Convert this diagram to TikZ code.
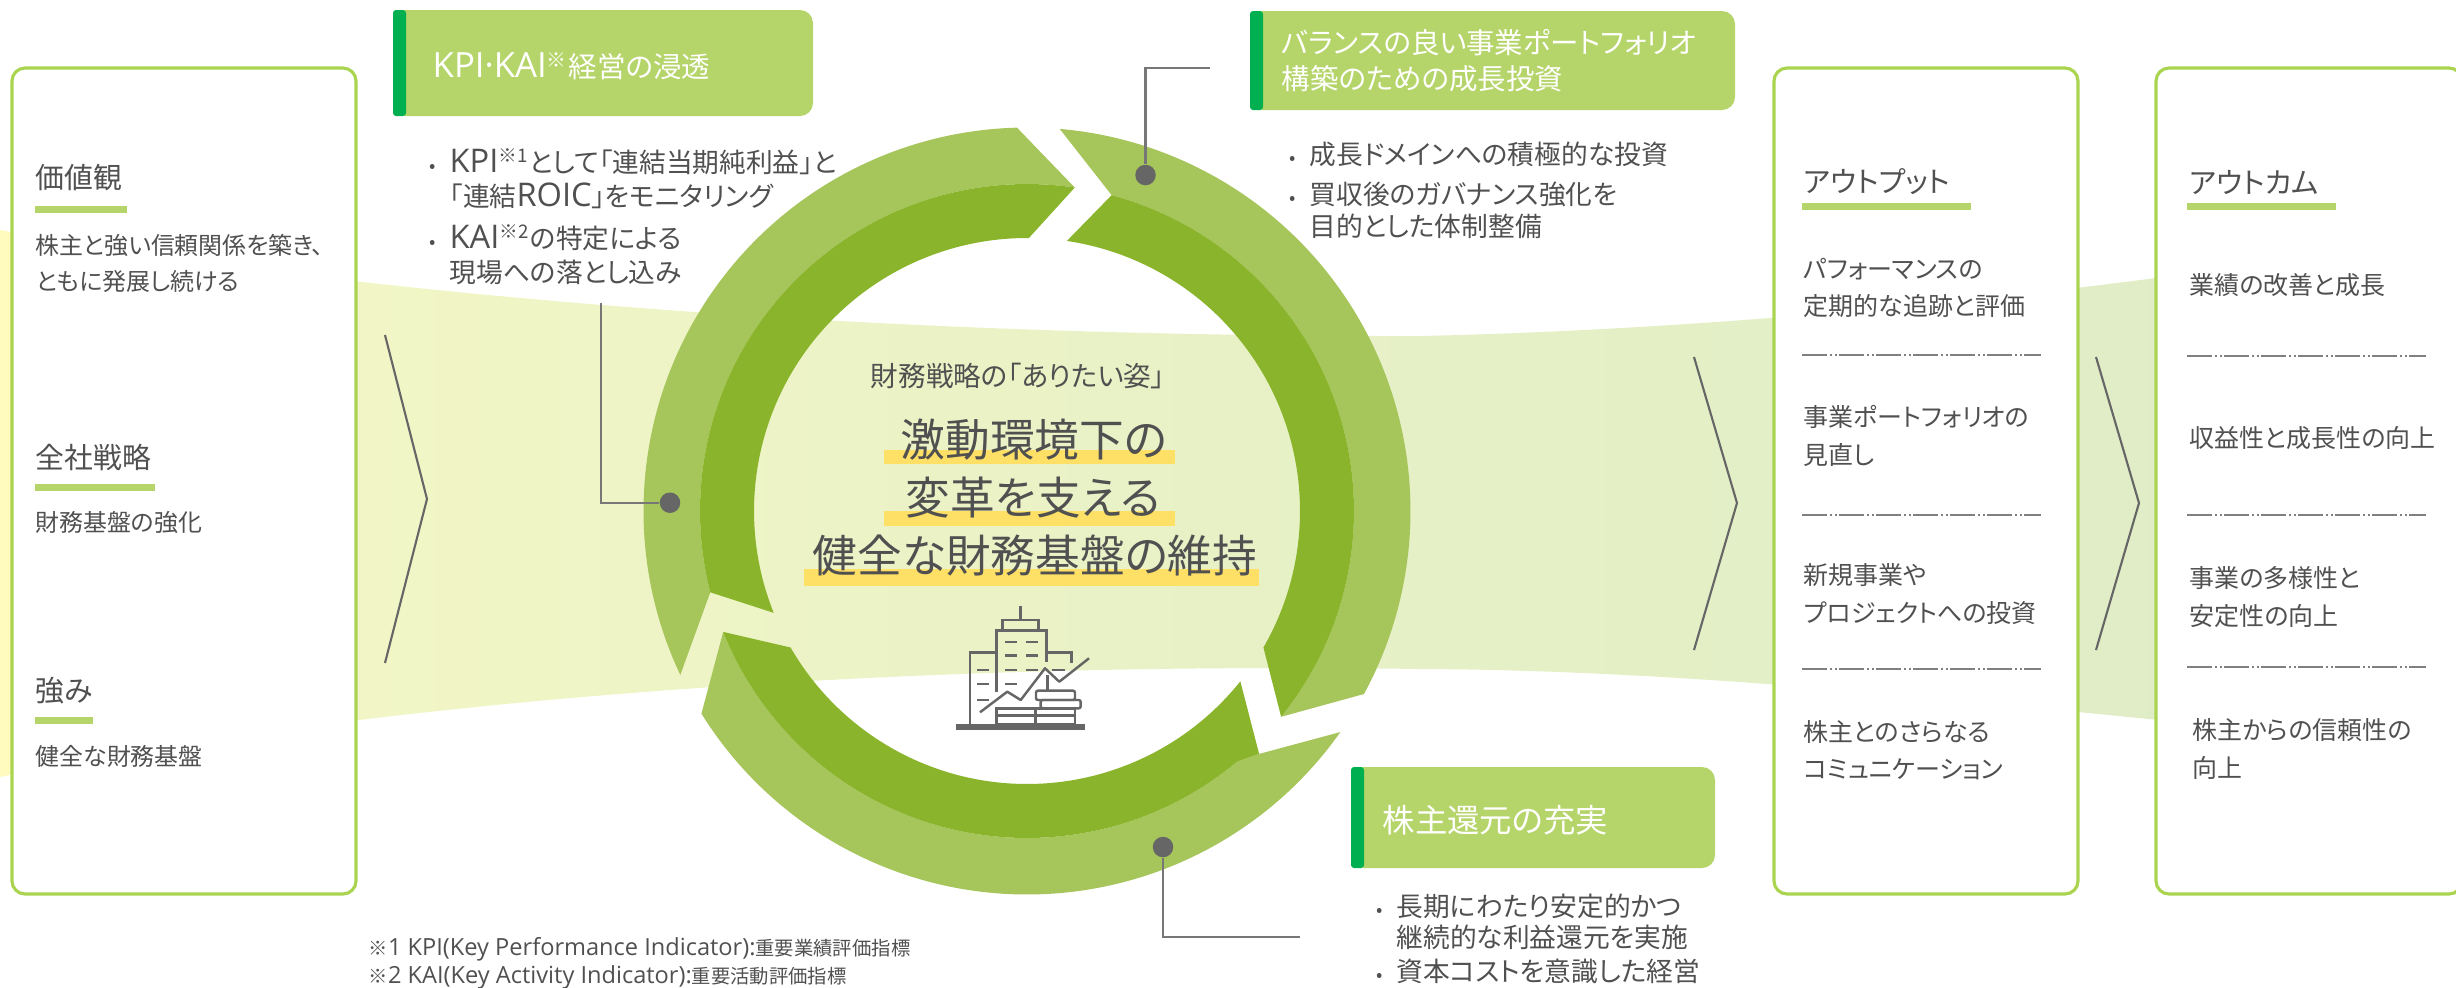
\documentclass[tikz,border=0pt]{standalone}
\usepackage{fontspec}
\setmainfont[RawFeature=+palt]{Noto Sans CJK JP}
\newfontfamily\latinfont[Scale=1.22]{Open Sans}
\usepackage{tikz}
\usetikzlibrary{positioning}
\definecolor{textgray}{HTML}{505050}
\definecolor{linegray}{HTML}{666666}
\definecolor{leadgray}{HTML}{777777}
\definecolor{ringlight}{HTML}{A6C55A}
\definecolor{ringdark}{HTML}{8AB42B}
\definecolor{headfill}{HTML}{B5D56A}
\definecolor{headbar}{HTML}{00B050}
\definecolor{boxline}{HTML}{AAD450}
\definecolor{bandleft}{HTML}{FFFBBE}
\definecolor{bandnear}{HTML}{F2F6C6}
\definecolor{bandmid}{HTML}{EAF2C6}
\definecolor{bandright}{HTML}{DFEDC6}
\definecolor{markyellow}{HTML}{FFE066}
\pgfdeclarehorizontalshading{bandshade}{100bp}{color(0bp)=(bandleft); color(25bp)=(bandleft); color(33bp)=(bandnear); color(48bp)=(bandmid); color(75bp)=(bandright); color(100bp)=(bandright)}
\newcommand{\listmark}{\makebox[0.2cm][l]{\scalebox{0.7}{•}}}
\newcommand{\listgap}{\hspace*{0.2cm}}
\newcommand{\lat}[1]{{\latinfont #1}}
\tikzset{
    colbox/.style={draw=boxline, line width=0.9pt, fill=white, rounded corners=0.13cm}, % the tall boxes
    tabbar/.style={fill=headbar, rounded corners=0.03cm},
    underbar/.style={fill=headfill}, % bar under a column title
    chevron/.style={draw=linegray, line width=0.6pt},
    rowrule/.style={draw=gray, line width=0.35pt, dash pattern=on 0.25cm off 0.03cm on 0.02cm off 0.03cm on 0.02cm off 0.02cm},
    dotmark/.style={circle, fill=linegray, minimum size=0.205cm, inner sep=0},
    leader/.style={draw=leadgray, line width=0.6pt},
    icon/.style={draw=linegray, line width=0.7pt},
    coltitle/.style={anchor=west, inner sep=0, text=textgray, font=\fontsize{8.2pt}{10pt}\selectfont},
    sidetext/.style={anchor=west, inner sep=0, align=left, text=textgray, font=\fontsize{6.8pt}{10.2pt}\selectfont},
    rowtext/.style={anchor=west, inner sep=0, align=left, text=textgray, font=\fontsize{7.1pt}{10.6pt}\selectfont},
    headtext/.style={anchor=west, inner sep=0, align=left, text=white, font=\fontsize{8.1pt}{10.2pt}\selectfont},
    listtext/.style={anchor=west, inner sep=0, align=left, text=textgray, font=\fontsize{7.6pt}{9.6pt}\selectfont},
    bigtext/.style={inner sep=0, text=textgray, font=\fontsize{12.7pt}{14pt}\selectfont},
    notetext/.style={anchor=west, inner sep=0, text=textgray, font=\fontsize{5.5pt}{7pt}\selectfont},
}
\begin{document}
\begin{tikzpicture}[x=0.01cm, y=-0.01cm]
    \useasboundingbox (0,0) rectangle (2456,987);

    % pale band behind everything
    \shade[shading=bandshade]
        (0,230) .. controls (300,285) and (800,337) .. (1420,336)
        .. controls (1700,330) and (2000,300) .. (2200,272) -- (2200,724)
        .. controls (2000,705) and (1700,670) .. (1420,669)
        .. controls (800,660) and (300,715) .. (0,777) -- cycle;

    % ring of three arrows
    \coordinate (ring) at (1027,511);
    \fill[ringlight] ([shift={(154.7:383.5)}]ring) arc[start angle=154.7, end angle=268.5, radius=383.5]
        -- ([shift={(278.4:327)}]ring) arc[start angle=278.4, end angle=165.6, radius=327] -- cycle;
    \fill[ringdark] ([shift={(278.4:327)}]ring) -- ([shift={(270.4:273)}]ring)
        arc[start angle=270.4, end angle=158.1, radius=273]
        -- ([shift={(165.6:327)}]ring) arc[start angle=165.6, end angle=278.4, radius=327] -- cycle;
    \fill[ringlight] ([shift={(-85.1:383.5)}]ring) arc[start angle=-85.1, end angle=28.5, radius=383.5]
        -- ([shift={(39:327)}]ring) arc[start angle=39, end angle=-75, radius=327] -- cycle;
    \fill[ringdark] ([shift={(-75:327)}]ring) arc[start angle=-75, end angle=39, radius=327]
        -- ([shift={(30:273)}]ring) arc[start angle=30, end angle=-81.6, radius=273] -- cycle;
    \fill[ringlight] ([shift={(35.2:383.5)}]ring) arc[start angle=35.2, end angle=148.1, radius=383.5]
        -- ([shift={(158.3:327)}]ring) arc[start angle=158.3, end angle=50, radius=327] -- ([shift={(46.3:336)}]ring) -- cycle;
    \fill[ringdark] ([shift={(158.3:327)}]ring) arc[start angle=158.3, end angle=50, radius=327] -- ([shift={(46.3:336)}]ring)
        -- ([shift={(38.6:273)}]ring) arc[start angle=38.6, end angle=150, radius=273] -- cycle;

    % tall boxes
    \draw[colbox] (12,68) rectangle (356,894);
    \draw[colbox] (1774,68) rectangle (2078,894);
    \draw[colbox] (2156,68) rectangle (2462,894);

    % chevrons
    \draw[chevron] (385,335) -- (427,499) -- (385,663);
    \draw[chevron] (1694,357) -- (1737,503) -- (1694,650);
    \draw[chevron] (2096,357) -- (2139,503) -- (2096,650);

    % left box
    \node[coltitle] (valuetitle) at (35,178) {価値観};
    \fill[underbar] (35,205.5) rectangle (127,212.5);
    \node[sidetext] (valuetext) at (35,263) {株主と強い信頼関係を築き、\\ともに発展し続ける};
    \node[coltitle] (plantitle) at (35,457) {全社戦略};
    \fill[underbar] (35,483.5) rectangle (155,490.5);
    \node[sidetext] (plantext) at (35,522) {財務基盤の強化};
    \node[coltitle] (powertitle) at (35,691) {強み};
    \fill[underbar] (35,717) rectangle (93,724);
    \node[sidetext] (powertext) at (35,756) {健全な財務基盤};

    % output box
    \node[coltitle] (outtitle) at (1803,182) {アウトプット};
    \fill[underbar] (1802,202.5) rectangle (1971,209.5);
    \node[rowtext] (outa) at (1803,288) {パフォーマンスの\\定期的な追跡と評価};
    \node[rowtext] (outb) at (1803,436) {事業ポートフォリオの\\見直し};
    \node[rowtext] (outc) at (1803,594) {新規事業や\\プロジェクトへの投資};
    \node[rowtext] (outd) at (1803,750) {株主とのさらなる\\コミュニケーション};
    \foreach \ypos in {355,515,669} {
        \draw[rowrule] (1802,\ypos) -- (2041,\ypos);
    }

    % outcome box
    \node[coltitle] (comtitle) at (2189,182) {アウトカム};
    \fill[underbar] (2187,202.5) rectangle (2336,209.5);
    \node[rowtext] (coma) at (2189,285) {業績の改善と成長};
    \node[rowtext] (comb) at (2189,438) {収益性と成長性の向上};
    \node[rowtext] (comc) at (2189,597) {事業の多様性と\\安定性の向上};
    \node[rowtext] (comd) at (2192,749) {株主からの信頼性の\\向上};
    \foreach \ypos in {356,515,667} {
        \draw[rowrule] (2187,\ypos) -- (2426,\ypos);
    }

    % header tabs
    \fill[headfill, rounded corners=0.13cm] (393,10) rectangle (813,116);
    \fill[tabbar] (393,10) rectangle (406,116);
    \node[headtext] (kpihead) at (432,66) {\lat{KPI·KAI}\textsuperscript{※}経営の浸透};
    \fill[headfill, rounded corners=0.13cm] (1250,11) rectangle (1735,110);
    \fill[tabbar] (1250,11) rectangle (1263,110);
    \node[headtext] (growhead) at (1281,61) {バランスの良い事業ポートフォリオ\\構築のための成長投資};
    \fill[headfill, rounded corners=0.13cm] (1351,767) rectangle (1715,868);
    \fill[tabbar] (1351,767) rectangle (1364,868);
    \node[headtext, font=\fontsize{9.2pt}{11pt}\selectfont] (returnhead) at (1382,820) {株主還元の充実};

    % bullet lists
    \node[listtext] (kpilist) at (429,217) {\listmark\lat{KPI}\textsuperscript{※1}として「連結当期純利益」と\\\listgap{}「連結\lat{ROIC}」をモニタリング\\[2.4pt]\listmark\lat{KAI}\textsuperscript{※2}の特定による\\\listgap{}現場への落とし込み};
    \node[listtext] (growlist) at (1289,190) {\listmark{}成長ドメインへの積極的な投資\\[1.8pt]\listmark{}買収後のガバナンス強化を\\[-0.6pt]\listgap{}目的とした体制整備};
    \node[listtext] (returnlist) at (1376,939) {\listmark{}長期にわたり安定的かつ\\[-0.8pt]\listgap{}継続的な利益還元を実施\\\listmark{}資本コストを意識した経営};

    % leaders from the ring to the tabs
    \node[dotmark] (kpidot) at (670,502.7) {};
    \node[dotmark] (growdot) at (1145.5,175) {};
    \node[dotmark] (returndot) at (1163,847) {};
    \coordinate (kpiend) at (601,303);
    \coordinate (growend) at (1210,68);
    \coordinate (returnend) at (1300,937);
    \draw[leader] (kpidot) -| (kpiend);
    \draw[leader] (growdot) |- (growend);
    \draw[leader] (returndot) |- (returnend);

    % centre
    \fill[markyellow] (884,449.6) rectangle (1174.6,464);
    \fill[markyellow] (884,511) rectangle (1174.6,525.5);
    \fill[markyellow] (803.7,569) rectangle (1259,586);
    \node[inner sep=0, text=textgray, font=\fontsize{7.85pt}{9pt}\selectfont] (aimtext) at (1018,376) {財務戦略の「ありたい姿」};
    \node[bigtext] (biga) at (1034,440) {激動環境下の};
    \node[bigtext] (bigb) at (1033,498) {変革を支える};
    \node[bigtext] (bigc) at (1035,555) {健全な財務基盤の維持};

    % building icon
    \draw[icon, line width=1.6pt] (955.7,727) -- (1085,727);
    \draw[icon] (970,724) -- (970,652.3) -- (996,652.3);
    \draw[icon] (996.7,691.7) -- (996.7,630.7) -- (1046.7,630.7) -- (1046.7,661.7);
    \draw[icon] (1002.3,630.7) -- (1002.3,620) -- (1038.3,620) -- (1038.3,630.7);
    \draw[icon] (1020.7,620) -- (1020.7,605.7);
    \draw[icon] (1047.3,652.3) -- (1071.7,652.3) -- (1071.7,663.3);
    \draw[icon] (1047.3,675) -- (1047.3,690);
    \foreach \ypos in {642,655.7,670} {
        \draw[icon] (1005,\ypos) -- (1017.3,\ypos);
        \draw[icon] (1025.7,\ypos) -- (1038.3,\ypos);
    }
    \draw[icon] (1005,684) -- (1017.3,684);
    \foreach \ypos in {670,684,700} {
        \draw[icon] (977.3,\ypos) -- (989,\ypos);
    }
    \draw[icon] (1051.7,670) -- (1065,670);
    \draw[icon, line join=round] (980,712.3) -- (1007.3,691.7) -- (1020.7,700) -- (1045,668.3) -- (1059.3,681.7) -- (1089,658.3);
    \draw[icon] (996.7,708.3) rectangle (1035.7,724);
    \draw[icon] (996.7,715.7) -- (1075,715.7);
    \draw[icon] (1035.7,708.3) rectangle (1075,724);
    \draw[icon, rounded corners=0.02cm] (1036,690.7) rectangle (1075,700);
    \draw[icon, rounded corners=0.02cm] (1040.7,700) rectangle (1080.7,708.3);

    % footnotes
    \node[notetext] (notea) at (368,949) {※\lat{1 KPI(Key Performance Indicator):}重要業績評価指標};
    \node[notetext] (noteb) at (368,977) {※\lat{2 KAI(Key Activity Indicator):}重要活動評価指標};
\end{tikzpicture}
\end{document}
